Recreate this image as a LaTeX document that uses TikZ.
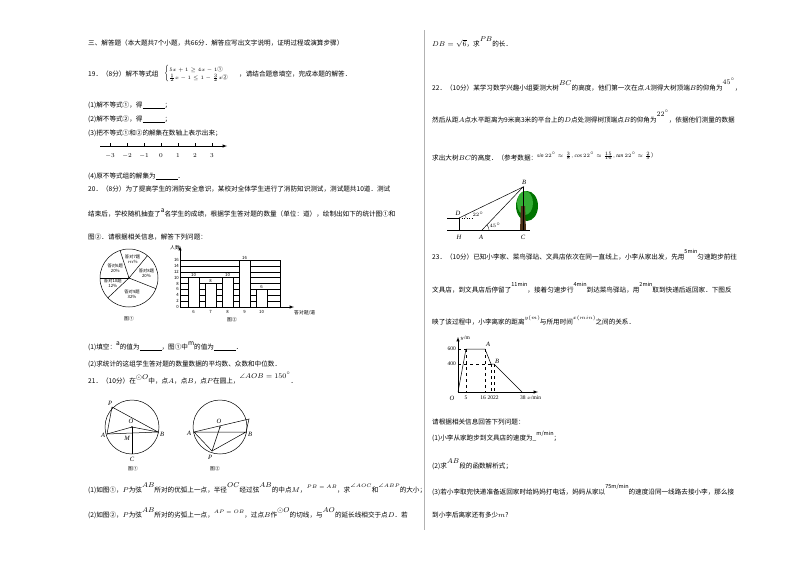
\documentclass[tikz,border=0pt]{standalone}
\usepackage{fontspec}
\usepackage{amsmath,amssymb}
\usetikzlibrary{calc}
\setmainfont{Liberation Serif}
\newfontfamily\cjk{Noto Sans CJK SC}
\begin{document}
\begin{tikzpicture}[x=1pt,y=-1pt,font=\cjk\fontsize{6.6}{8}\selectfont,
  tx/.style={anchor=base west,inner sep=0pt},
  sm/.style={font=\cjk\fontsize{4.8}{5.5}\selectfont,inner sep=1pt},
  tiny/.style={font=\cjk\fontsize{4.3}{5}\selectfont,inner sep=1pt},
  lbl/.style={font=\fontsize{6.5}{7}\selectfont\itshape,inner sep=1pt},
  ln/.style={line width=0.5pt}]
\useasboundingbox (0,0) rectangle (800,566);
\fill[white] (0,0) rectangle (800,566);
\draw[gray!60,line width=0.8pt] (424,30) -- (424,530);
% left column
\node[tx] (t1) at (88,45) {三、解答题（本大题共7个小题，共66分．解答应写出文字说明，证明过程或演算步骤）};
\node[tx] (t2) at (88,76) {19．（8分）解不等式组};
\node[tx,font=\cjk\fontsize{5.5}{6.5}\selectfont] (sys) at (164,75) {$\begin{cases}5x+1\ge 4x-1\text{①}\\ \frac12x-1\le 1-\frac32x\text{②}\end{cases}$};
\node[tx] (t2b) at (239,76) {，请结合题意填空，完成本题的解答．};
\node[tx] (t3) at (88,107) {(1)解不等式①，得\underline{\hspace{22pt}}；};
\node[tx] (t4) at (88,121) {(2)解不等式②，得\underline{\hspace{22pt}}；};
\node[tx] (t5) at (88,135) {(3)把不等式①和②的解集在数轴上表示出来；};
\coordinate (nl0) at (100,146); \coordinate (nl1) at (227,146);
\draw[ln,-latex] (nl0) -- (nl1);
\foreach \v [count=\i from 0] in {-3,-2,-1,0,1,2,3}{
  \draw[ln] (110+17*\i,146) -- (110+17*\i,143);
  \node[sm,font=\fontsize{6}{7}\selectfont] (n\i) at (110+17*\i,156) {$\v$};}
\node[tx] (t6) at (88,178) {(4)原不等式组的解集为\underline{\hspace{22pt}}．};
\node[tx] (t7) at (88,191) {20．（8分）为了提高学生的消防安全意识，某校对全体学生进行了消防知识测试，测试题共10道．测试};
\node[tx] (t8) at (88,216) {结束后，学校随机抽查了\raisebox{4pt}{\itshape a}名学生的成绩，根据学生答对题的数量（单位：道），绘制出如下的统计图①和};
\node[tx] (t9) at (88,239) {图②．请根据相关信息，解答下列问题：};
% pie (y axis flipped: angles negated)
\coordinate (pc) at (129,278);
\draw[ln] (pc) circle (29);
\foreach \a in {180,108,50.4,-21.6,-136.8} \draw[ln] (pc) -- ++(-\a:29);
\fill (pc) circle (0.8);
\node[tiny,align=center] (p6) at ($(pc)+(-144:17)$) {答对6题\\20\%};
\node[tiny,align=center] (p7) at ($(pc)+(-79:19)$) {答对7题\\$m$\%};
\node[tiny,align=center] (p8) at ($(pc)+(-14:18)$) {答对8题\\20\%};
\node[tiny,align=center] (p9) at ($(pc)+(79:16)$) {答对9题\\32\%};
\node[tiny,align=center] (p10) at ($(pc)+(162:17)$) {答对10题\\12\%};
\node[sm] (f1) at (129,319) {图①};
% bar chart
\coordinate (bo) at (180,307);
\foreach \k in {0,2,...,16}{
  \draw[line width=0.3pt] (180,307-2.94*\k) -- (280,307-2.94*\k);
  \node[tiny,anchor=east] (yl\k) at (180,307-2.94*\k) {\k};}
\draw[line width=0.3pt] (280,260) -- (280,307);
\draw[ln,-latex] (180,307) -- (180,246);
\draw[ln,-latex] (180,307) -- (294,307);
\node[sm,anchor=east] (ren) at (181,248) {人数};
\foreach \xx/\h/\c in {188/10/6,205/8/7,222/10/8,239/16/9,256/6/10}{
  \draw[ln,fill=white] (\xx,307) rectangle (\xx+11,307-2.94*\h);
  \node[tiny] at (\xx+5.5,307-2.94*\h-2.5) {\h};
  \node[tiny] at (\xx+5.5,312) {\c};}
\node[sm,anchor=west] (xlab) at (293,313) {答对题/道};
\node[sm] (f2) at (232,320) {图②};
\node[tx] (t10) at (88,349) {(1)填空：\raisebox{4pt}{\itshape a}的值为\underline{\hspace{22pt}}，图①中\raisebox{4pt}{\itshape m}的值为\underline{\hspace{22pt}}．};
\node[tx] (t11) at (88,366) {(2)求统计的这组学生答对题的数量数据的平均数、众数和中位数．};
\node[tx] (t12) at (88,383) {21．（10分）在\raisebox{4pt}{$\odot O$}中，点$A$，点$B$，点$P$在圆上，\raisebox{5pt}{$\angle AOB=150^\circ$}．};
% circle 1
\coordinate (O1) at (132,427);
\draw[ln] (O1) circle (27);
\coordinate (A1) at (107,434); \coordinate (B1) at (158,432); \coordinate (P1) at (112,407);
\coordinate (M1) at (132,433); \coordinate (C1) at (132,454);
\draw[ln] (P1) -- (A1) -- (B1) -- (P1); \draw[ln] (A1) -- (O1) -- (B1); \draw[ln] (O1) -- (C1);
\fill (O1) circle (0.8);
\node[lbl] at (110,403) {P}; \node[lbl] at (103,435) {A}; \node[lbl] at (162,434) {B};
\node[lbl] at (131,421) {O}; \node[lbl] at (127,438) {M}; \node[lbl] at (132,459) {C};
\node[sm] (g1) at (133,469) {图①};
% circle 2
\coordinate (O2) at (220,427);
\draw[ln] (O2) circle (27);
\coordinate (A2) at (194,432); \coordinate (B2) at (246,432); \coordinate (P2) at (212,451); \coordinate (D2) at (249,419);
\draw[ln] (A2) -- (B2) -- (P2) -- (A2); \draw[ln] (A2) -- (D2) -- (B2); \draw[ln] (O2) -- (P2);
\fill (O2) circle (0.8);
\node[lbl] at (189,433) {A}; \node[lbl] at (250,434) {B}; \node[lbl] at (219,421) {O}; \node[lbl] at (210,457) {P};
\node[sm] (g2) at (215,469) {图②};
\node[tx] (t13) at (88,492) {(1)如图①，$P$为弦\raisebox{5pt}{$AB$}所对的优弧上一点，半径\raisebox{5pt}{$OC$}经过弦\raisebox{5pt}{$AB$}的中点$M$，\raisebox{4pt}{\fontsize{5.5}{6}\selectfont$PB=AB$}，求\raisebox{5pt}{\fontsize{5.5}{6}\selectfont$\angle AOC$}和\raisebox{5pt}{\fontsize{5.5}{6}\selectfont$\angle ABP$}的大小；};
\node[tx] (t14) at (88,517) {(2)如图②，$P$为弦\raisebox{5pt}{$AB$}所对的劣弧上一点，\raisebox{4pt}{\fontsize{5.5}{6}\selectfont$AP=OB$}，过点$B$作\raisebox{5pt}{$\odot O$}的切线，与\raisebox{5pt}{$AO$}的延长线相交于点$D$．若};
% right column
\node[tx] (r1) at (432,46) {$DB=\sqrt6$，求\raisebox{5pt}{$PB$}的长．};
\node[tx] (r2) at (432,90) {22．（10分）某学习数学兴趣小组要测大树\raisebox{5pt}{$BC$}的高度，他们第一次在点$A$测得大树顶端$B$的仰角为\raisebox{6pt}{$45^\circ$}，};
\node[tx] (r3) at (432,122) {然后从距$A$点水平距离为9米高3米的平台上的$D$点处测得树顶端点$B$的仰角为\raisebox{6pt}{$22^\circ$}，依据他们测量的数据};
\node[tx] (r4) at (432,160) {求出大树$BC$的高度．（参考数据：\raisebox{3pt}{\fontsize{5.5}{7}\selectfont$\mathit{sin}\,22^\circ\approx\frac38,\mathit{cos}\,22^\circ\approx\frac{15}{16},\mathit{tan}\,22^\circ\approx\frac25$）}};
% tree figure
\coordinate (H) at (459,230); \coordinate (A) at (482,230); \coordinate (C) at (523,230);
\coordinate (B) at (523,187); \coordinate (D) at (459,218); \coordinate (g0) at (447,230); \coordinate (g1) at (530,230); \coordinate (dl) at (447,218);
\fill[green!45!black] (527,206) ellipse (11 and 15);
\fill[green!60!black!80] (525,203) ellipse (8 and 12);
\fill[brown!40!black] (521,206) -- (525,206) -- (526,230) -- (520,230) -- cycle;
\draw[ln] (g0) -- (g1); \draw[ln] (dl) -- (D) -- (H); \draw[ln] (D) -- (B) -- (A); \draw[ln] (B) -- (C);
\draw[ln,dotted] (D) -- (472,218);
\draw[line width=0.3pt] (466,218) arc (0:-20:7); \draw[line width=0.3pt] (489,230) arc (0:-45:7);
\node[lbl] at (458,213) {D}; \node[lbl] at (459,237) {H}; \node[lbl] at (481,237) {A}; \node[lbl] at (523,237) {C}; \node[lbl] at (524,182) {B};
\node[sm,font=\fontsize{5.5}{6}\selectfont] at (478,214) {$22^\circ$}; \node[sm,font=\fontsize{5.5}{6}\selectfont] at (495,225) {$45^\circ$};
\node[tx] (r5) at (432,259) {23．（10分）已知小李家、菜鸟驿站、文具店依次在同一直线上，小李从家出发，先用\raisebox{6pt}{\fontsize{5.5}{7}\selectfont5min}匀速跑步前往};
\node[tx] (r6) at (432,292) {文具店，到文具店后停留了\raisebox{6pt}{\fontsize{5.5}{7}\selectfont11min}，接着匀速步行\raisebox{6pt}{\fontsize{5.5}{7}\selectfont4min}到达菜鸟驿站，用\raisebox{6pt}{\fontsize{5.5}{7}\selectfont2min}取到快递后返回家．下图反};
\node[tx] (r7) at (432,324) {映了该过程中，小李离家的距离\raisebox{5pt}{\fontsize{5.5}{7}\selectfont$y(m)$}与所用时间\raisebox{5pt}{\fontsize{5.5}{7}\selectfont$x(min)$}之间的关系．};
% graph
\coordinate (go) at (458,392);
\draw[ln,-latex] (458,392) -- (458,337); \draw[ln,-latex] (458,392) -- (538,392);
\coordinate (q5) at (466,349); \coordinate (q16) at (485,349); \coordinate (q20) at (491,364); \coordinate (q22) at (494,364); \coordinate (q38) at (522,392);
\draw[ln] (go) -- (q5) -- (q16) -- (q20) -- (q22) -- (q38);
\draw[line width=0.3pt,dashed] (458,349) -- (q5) (466,349) -- (466,392) (485,349) -- (485,392) (458,364) -- (q20) (491,364) -- (491,392) (494,364) -- (494,392);
\node[sm,font=\fontsize{5.5}{6}\selectfont,anchor=west] at (459,338) {$y$/m};
\node[sm,font=\fontsize{5.5}{6}\selectfont,anchor=east] at (457,349) {600};
\node[sm,font=\fontsize{5.5}{6}\selectfont,anchor=east] at (457,364) {400};
\node[lbl] at (488,344) {A}; \node[lbl] at (497,361) {B};
\node[lbl] at (452,398) {O};
\node[sm,font=\fontsize{5.5}{6}\selectfont] at (466,398) {5};
\node[sm,font=\fontsize{5.5}{6}\selectfont] at (483,398) {16};
\node[sm,font=\fontsize{5.5}{6}\selectfont] at (493,398) {2022};
\node[sm,font=\fontsize{5.5}{6}\selectfont,anchor=west] at (519,398) {38 $x$/min};
\node[tx] (r8) at (432,424) {请根据相关信息回答下列问题：};
\node[tx] (r9) at (432,440) {(1)小李从家跑步到文具店的速度为\_\raisebox{5pt}{\fontsize{5.5}{7}\selectfont m/min}；};
\node[tx] (r10) at (432,468) {(2)求\raisebox{5pt}{$AB$}段的函数解析式；};
\node[tx] (r11) at (432,494) {(3)若小李取完快递准备返回家时给妈妈打电话，妈妈从家以\raisebox{6pt}{\fontsize{5.5}{7}\selectfont75m/min}的速度沿同一线路去接小李，那么接};
\node[tx] (r12) at (432,517) {到小李后离家还有多少$m$?};
\end{tikzpicture}
\end{document}
